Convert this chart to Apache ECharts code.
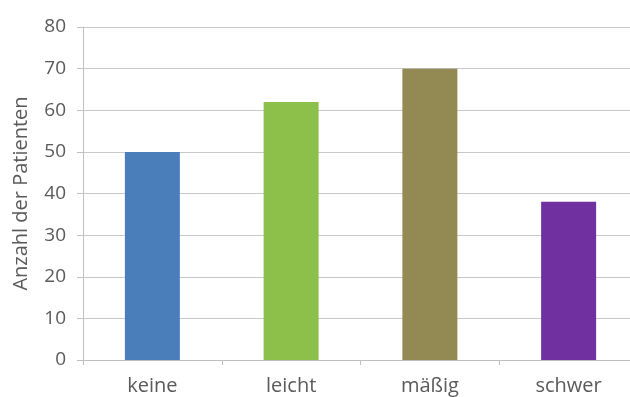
<!DOCTYPE html>
<html><head><meta charset="utf-8">
<script src="https://cdn.jsdelivr.net/npm/echarts@6/dist/echarts.min.js"></script>
<style>html,body{margin:0;padding:0;background:#fff}#c{width:630px;height:397px}</style>
</head><body><div id="c"></div>
<script>
const categories = ['keine', 'leicht', 'mäßig', 'schwer'];
const values = [50, 62, 70, 38];
const barColors = ['#4A7EBB', '#8CC04A', '#938953', '#7030A0'];
const yTicks = { min: 0, max: 80, interval: 10 };
const yName = 'Anzahl der Patienten';

const chart = echarts.init(document.getElementById('c'));
chart.setOption({
  animation: false,
  grid: { left: 83, width: 555, top: 27, height: 333, containLabel: false, outerBoundsMode: 'none' },
  xAxis: {
    type: 'category', data: categories,
    axisLine: { lineStyle: { color: '#bfbfbf', width: 1 } },
    axisTick: { show: true, alignWithLabel: false, length: 5, lineStyle: { color: '#bfbfbf' } },
    axisLabel: { color: '#5a5a5a', fontFamily: 'Open Sans', fontSize: 20, margin: 16 }
  },
  yAxis: {
    type: 'value', min: yTicks.min, max: yTicks.max, interval: yTicks.interval,
    name: yName, nameLocation: 'middle', nameGap: 52, nameRotate: 90,
    nameTextStyle: { color: '#5a5a5a', fontFamily: 'Open Sans', fontSize: 20 },
    axisLine: { show: true, lineStyle: { color: '#bfbfbf' } },
    axisTick: { show: true, length: 6, lineStyle: { color: '#bfbfbf' } },
    axisLabel: { color: '#5a5a5a', fontFamily: 'Open Sans', fontSize: 19, margin: 17 },
    splitLine: { lineStyle: { color: '#c8c8c8', width: 1 } }
  },
  series: [{
    type: 'bar', barWidth: 55,
    data: values.map((v, i) => ({ value: v, itemStyle: { color: barColors[i] } }))
  }]
});
</script></body></html>
